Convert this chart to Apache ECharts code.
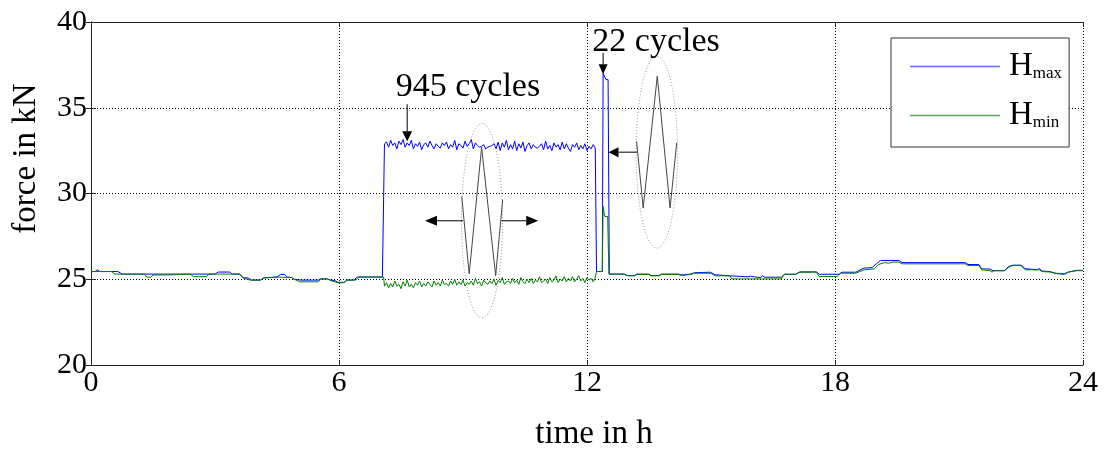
<!DOCTYPE html>
<html>
<head>
<meta charset="utf-8">
<script src="https://cdn.jsdelivr.net/npm/echarts@6/dist/echarts.min.js"></script>
<style>
html,body{margin:0;padding:0;background:#fff;}
#chart{width:1105px;height:450px;}
</style>
</head>
<body>
<div id="chart"></div>
<script>
// ---------- DATA (time in h, force in kN) ----------
const xTicks = [0, 6, 12, 18, 24];
const yTicks = [20, 25, 30, 35, 40];

// H_max before the cyclic block
const hmaxBefore = [[0,25.45],[0.1,25.45],[0.15,25.55],[0.22,25.45],[0.65,25.45],[0.75,25.3],[3.0,25.3],[3.08,25.42],[3.35,25.42],[3.42,25.3],[3.6,25.3],[3.68,25.08],[3.8,25.08],[3.88,24.95],[4.1,24.95],[4.18,25.08],[4.32,25.1],[4.5,25.13],[4.58,25.28],[4.68,25.28],[4.75,25.13],[4.85,25.1],[4.92,25.0],[5.08,24.95],[5.5,24.95],[5.56,25.02],[5.72,25.02],[5.8,24.95],[5.9,24.92],[5.98,24.82],[6.12,24.82],[6.2,24.95],[6.35,24.95],[6.45,25.13],[7.05,25.13]];
// H_min before the cyclic block
const hminBefore = [[0,25.45],[0.5,25.45],[0.58,25.3],[1.3,25.3],[1.35,25.12],[1.45,25.12],[1.5,25.25],[1.85,25.25],[2.4,25.3],[2.48,25.15],[2.8,25.15],[2.85,25.3],[3.6,25.3],[3.68,25.08],[3.85,24.95],[4.1,24.95],[4.18,25.08],[4.5,25.13],[4.85,25.1],[4.92,25.0],[5.05,24.85],[5.5,24.85],[5.56,25.02],[5.72,25.02],[5.8,24.92],[5.98,24.8],[6.12,24.8],[6.2,24.95],[6.4,24.95],[6.48,25.13],[7.08,25.13]];

// 945 cycles block
const cycleHours = [7.10,7.15,7.20,7.25,7.30,7.35,7.40,7.45,7.50,7.55,
  7.60,7.65,7.70,7.75,7.80,7.85,7.90,7.95,8.00,8.05,
  8.10,8.15,8.20,8.25,8.30,8.35,8.40,8.45,8.50,8.55,
  8.60,8.65,8.70,8.75,8.80,8.85,8.90,8.95,9.00,9.05,
  9.10,9.15,9.20,9.25,9.30,9.35,9.40,9.45,9.50,9.55,
  9.60,9.65,9.70,9.75,9.80,9.85,9.90,9.95,10.00,10.05,
  10.10,10.15,10.20,10.25,10.30,10.35,10.40,10.45,10.50,10.55,
  10.60,10.65,10.70,10.75,10.80,10.85,10.90,10.95,11.00,11.05,
  11.10,11.15,11.20,11.25,11.30,11.35,11.40,11.45,11.50,11.55,
  11.60,11.65,11.70,11.75,11.80,11.85,11.90,11.95,12.00,12.05,
  12.10,12.15,12.20];
const hmaxCycles = [32.9,33.0,32.7,33.1,32.8,32.95,32.6,33.05,32.85,33.15,
  32.7,32.95,32.8,33.1,32.6,32.9,32.75,33.0,32.55,32.85,
  32.95,32.7,33.05,32.8,32.6,32.9,32.75,32.65,32.95,32.8,
  33.0,32.6,32.85,32.7,33.1,32.55,32.9,32.8,32.65,33.05,
  32.75,32.9,33.15,32.6,32.95,32.8,32.7,32.75,32.85,32.6,
  32.7,32.75,32.8,32.9,32.6,33.0,32.5,32.95,32.7,33.1,
  32.55,32.85,32.6,33.05,32.5,32.9,32.65,33.0,32.45,32.8,
  32.95,32.6,32.85,32.7,32.65,32.75,32.9,32.55,33.05,32.6,
  32.8,32.5,32.95,32.7,32.85,32.55,33.0,32.6,32.9,32.65,
  32.45,32.85,32.7,32.95,32.55,32.8,32.6,32.9,32.5,32.75,
  32.6,32.85,32.65];
const hminCycles = [24.6,24.8,24.5,24.75,24.55,24.9,24.6,24.7,24.45,24.85,
  24.6,24.95,24.55,24.7,24.5,24.8,24.65,24.9,24.55,24.75,
  24.6,24.85,24.7,24.55,24.9,24.65,24.8,24.6,24.95,24.7,
  24.75,24.6,24.9,24.7,25.0,24.65,24.85,24.7,24.95,24.6,
  24.8,24.7,24.9,24.65,25.05,24.75,24.85,24.6,24.95,24.8,
  24.7,24.9,24.75,25.0,24.65,24.95,24.8,25.1,24.7,24.85,
  24.9,24.75,25.05,24.8,24.95,24.7,25.1,24.85,24.75,25.0,
  24.8,25.05,24.75,24.95,24.85,25.15,24.8,24.9,25.0,24.75,
  25.1,24.85,24.95,25.2,24.8,25.0,24.9,25.15,24.85,25.05,
  24.9,25.15,24.85,25.0,25.2,24.9,25.05,24.8,25.1,24.95,
  25.05,24.85,25.1];

// 22 cycles block
const hmaxSpike = [[12.23,25.45],[12.37,25.45],[12.39,37.0],[12.43,36.95],[12.46,36.64],[12.51,36.64],[12.54,25.3]];
const hminSpike = [[12.23,25.45],[12.37,25.45],[12.39,29.24],[12.41,28.9],[12.43,28.66],[12.5,28.66],[12.53,25.3]];

// after the cyclic blocks
const hmaxAfter = [[12.9,25.3],[12.95,25.22],[13.15,25.22],[13.2,25.3],[13.5,25.3],[13.55,25.22],[13.75,25.22],[13.8,25.3],[14.2,25.3],[14.3,25.25],[14.5,25.3],[14.6,25.38],[14.98,25.41],[15.1,25.26],[15.46,25.2],[15.5,25.14],[15.9,25.14],[15.95,25.18],[16.05,25.14],[16.2,25.1],[16.25,25.2],[16.3,25.12],[16.7,25.12],[16.78,25.29],[17.05,25.29],[17.15,25.43],[17.55,25.43],[17.62,25.29],[18.1,25.29],[18.17,25.41],[18.5,25.41],[18.7,25.65],[18.9,25.68],[19.0,25.9],[19.1,26.09],[19.55,26.09],[19.62,25.97],[21.15,25.97],[21.22,25.86],[21.48,25.86],[21.55,25.6],[21.75,25.6],[21.82,25.5],[22.1,25.5],[22.2,25.7],[22.3,25.82],[22.5,25.82],[22.6,25.62],[22.88,25.55],[22.95,25.62],[23.0,25.48],[23.2,25.45],[23.35,25.33],[23.55,25.29],[23.65,25.42],[23.85,25.52],[24,25.52]];
const hminAfter = [[12.9,25.3],[13.0,25.2],[13.15,25.2],[13.2,25.28],[13.5,25.28],[13.55,25.2],[13.75,25.2],[13.8,25.28],[14.2,25.28],[14.3,25.22],[14.5,25.28],[14.6,25.35],[15.0,25.35],[15.1,25.2],[15.46,25.2],[15.5,25.02],[16.7,25.02],[16.78,25.29],[17.05,25.29],[17.15,25.41],[17.55,25.41],[17.62,25.16],[18.05,25.16],[18.13,25.35],[18.5,25.35],[18.7,25.55],[18.95,25.6],[19.05,25.86],[19.2,25.97],[19.3,25.94],[19.4,26.0],[19.55,26.0],[19.62,25.9],[21.15,25.9],[21.22,25.8],[21.48,25.8],[21.55,25.55],[21.75,25.5],[21.8,25.42],[21.85,25.5],[22.1,25.5],[22.2,25.75],[22.3,25.8],[22.5,25.8],[22.6,25.55],[22.95,25.55],[23.0,25.45],[23.2,25.42],[23.35,25.35],[23.55,25.33],[23.65,25.42],[23.85,25.5],[24,25.5]];

// annotations (data coordinates)
const label945 = {text: '945 cycles', at: [9.12, 36.2]};
const arrow945 = {from: [7.65, 35.2], to: [7.65, 33.05]};
const label22 = {text: '22 cycles', at: [13.67, 38.85]};
const arrow22 = {from: [12.39, 38.2], to: [12.39, 36.95]};
const ellipse1 = {center: [9.46, 28.41], radius: [0.496, 5.66]};
const zigzag1 = [[8.97,29.83],[9.15,25.31],[9.45,32.69],[9.79,25.21],[9.96,29.64]];
const arrowsOut1 = [{from: [9.0, 28.41], to: [8.08, 28.41]}, {from: [9.93, 28.41], to: [10.82, 28.41]}];
const ellipse2 = {center: [13.69, 32.41], radius: [0.50, 5.59]};
const zigzag2 = [[13.2,33.04],[13.36,29.15],[13.7,36.84],[14.01,29.15],[14.17,32.95]];
const arrowIn2 = {from: [13.21, 32.41], to: [12.52, 32.41]};

// ---------- CHART ----------
const SERIF = 'Liberation Serif, Times New Roman, serif';
function pairs(hours, vals) { return hours.map((h, i) => [h, vals[i]]); }
const hmaxData = hmaxBefore.concat(pairs(cycleHours, hmaxCycles), hmaxSpike, hmaxAfter);
const hminData = hminBefore.concat(pairs(cycleHours, hminCycles), hminSpike, hminAfter);

const chart = echarts.init(document.getElementById('chart'), null, {renderer: 'canvas'});
const axisCommon = {
  type: 'value',
  axisLine: {show: true, lineStyle: {color: '#222', width: 1}},
  axisTick: {show: true, inside: true, length: 5, lineStyle: {color: '#222'}},
};
chart.setOption({
  animation: false,
  backgroundColor: '#fff',
  grid: {left: 91, right: 22, top: 22, bottom: 85, show: false, containLabel: false, outerBoundsMode: 'none'},
  xAxis: [
    Object.assign({}, axisCommon, {
      min: xTicks[0], max: xTicks[xTicks.length - 1], interval: 6,
      name: 'time in h', nameLocation: 'middle', nameGap: 53,
      nameTextStyle: {fontFamily: SERIF, fontSize: 33, color: '#000', padding: [0, 0, 0, 14]},
      axisLabel: {fontFamily: SERIF, fontSize: 30, color: '#000', margin: 3},
      splitLine: {show: true, lineStyle: {color: '#000', width: 1, type: [1, 2]}}
    }),
    Object.assign({}, axisCommon, {
      position: 'top', min: xTicks[0], max: xTicks[xTicks.length - 1], interval: 6,
      axisLabel: {show: false}, splitLine: {show: false}
    })
  ],
  yAxis: [
    Object.assign({}, axisCommon, {
      min: yTicks[0], max: yTicks[yTicks.length - 1], interval: 5,
      name: 'force in kN', nameLocation: 'middle', nameGap: 48, nameRotate: 90,
      nameTextStyle: {fontFamily: SERIF, fontSize: 33, color: '#000', padding: [0, 0, 0, 70]},
      axisLabel: {fontFamily: SERIF, fontSize: 30, color: '#000', margin: 4},
      splitLine: {show: true, lineStyle: {color: '#000', width: 1, type: [1, 2]}}
    }),
    Object.assign({}, axisCommon, {
      position: 'right', min: yTicks[0], max: yTicks[yTicks.length - 1], interval: 5,
      axisLabel: {show: false}, splitLine: {show: false}
    })
  ],
  legend: {
    orient: 'vertical', left: 891, top: 38,
    padding: [12, 7, 15, 19],
    icon: 'rect',
    itemWidth: 90, itemHeight: 1.5, itemGap: 16,
    backgroundColor: '#fff', borderColor: '#333', borderWidth: 1,
    data: ['Hmax', 'Hmin'],
    formatter: function (name) { return '{h|H}{s|' + name.slice(1) + '}'; },
    textStyle: {
      padding: [0, 0, 0, 4],
      rich: {
        h: {fontFamily: SERIF, fontSize: 33, lineHeight: 32, color: '#000', verticalAlign: 'middle'},
        s: {fontFamily: SERIF, fontSize: 17, lineHeight: 16, color: '#000', verticalAlign: 'middle', padding: [14, 0, 0, 0]}
      }
    }
  },
  series: [
    {name: 'Hmax', type: 'line', data: hmaxData, symbol: 'none', showSymbol: false,
     lineStyle: {color: '#0000ff', width: 1}, itemStyle: {color: '#6a6aff'}},
    {name: 'Hmin', type: 'line', data: hminData, symbol: 'none', showSymbol: false,
     lineStyle: {color: '#008000', width: 1}, itemStyle: {color: '#5aaa5a'}}
  ]
});

// ---------- ANNOTATIONS (positioned through the chart's scales) ----------
function px(p) { return chart.convertToPixel({gridIndex: 0}, p); }
function arrowGraphics(a, head) {
  const p0 = px(a.from), p1 = px(a.to);
  const dx = p1[0] - p0[0], dy = p1[1] - p0[1];
  const len = Math.sqrt(dx * dx + dy * dy);
  const ux = dx / len, uy = dy / len;
  const hl = head[0], hw = head[1] / 2;
  const bx = p1[0] - ux * hl, by = p1[1] - uy * hl;
  return [
    {type: 'line', shape: {x1: p0[0], y1: p0[1], x2: bx, y2: by}, style: {stroke: '#000', lineWidth: 1}, z: 100},
    {type: 'polygon', shape: {points: [[p1[0], p1[1]], [bx - uy * hw, by + ux * hw], [bx + uy * hw, by - ux * hw]]},
     style: {fill: '#000'}, z: 100}
  ];
}
function ellipseGraphic(e) {
  const c = px(e.center);
  const r = px([e.center[0] + e.radius[0], e.center[1] + e.radius[1]]);
  return {type: 'ellipse', shape: {cx: c[0], cy: c[1], rx: Math.abs(r[0] - c[0]), ry: Math.abs(r[1] - c[1])},
    style: {fill: 'none', stroke: '#9a9a9a', lineWidth: 1, lineDash: [1, 2]}, z: 99};
}
function zigzagGraphic(pts) {
  return {type: 'polyline', shape: {points: pts.map(px)}, style: {stroke: '#444', lineWidth: 1, fill: 'none'}, z: 100};
}
function textGraphic(t) {
  const p = px(t.at);
  return {type: 'text', x: p[0], y: p[1], z: 101,
    style: {text: t.text, fontFamily: SERIF, fontSize: 34, fill: '#000', align: 'center', verticalAlign: 'middle'}};
}
let elements = [];
elements.push(textGraphic(label945), textGraphic(label22));
elements = elements.concat(arrowGraphics(arrow945, [10, 10]), arrowGraphics(arrow22, [10, 9]));
elements.push(ellipseGraphic(ellipse1), zigzagGraphic(zigzag1));
arrowsOut1.forEach(a => { elements = elements.concat(arrowGraphics(a, [12, 10])); });
elements.push(ellipseGraphic(ellipse2), zigzagGraphic(zigzag2));
elements = elements.concat(arrowGraphics(arrowIn2, [10, 10]));
chart.setOption({graphic: {elements: elements}});
</script>
</body>
</html>
